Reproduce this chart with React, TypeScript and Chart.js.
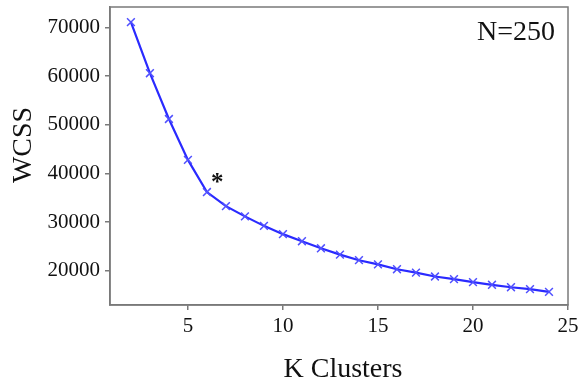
import React, { useEffect, useRef } from "react";
import { Chart, registerables } from "chart.js";

Chart.register(...registerables);

const kValues = [2, 3, 4, 5, 6, 7, 8, 9, 10, 11, 12, 13, 14, 15, 16, 17, 18, 19, 20, 21, 22, 23, 24];
const wcssValues = [
  71100, 60600, 51200, 42800, 36200, 33300, 31200, 29250, 27550, 26100, 24650, 23350,
  22200, 21350, 20350, 19650, 18850, 18300, 17700, 17150, 16650, 16250, 15700,
];
const xTicks = [5, 10, 15, 20, 25];
const yTicks = [20000, 30000, 40000, 50000, 60000, 70000];
const xTitle = "K Clusters";
const yTitle = "WCSS";
const sampleLabel = "N=250";
const elbowMark = { x: 6.55, y: 38500, text: "*" };

const FONT = "'Liberation Serif', 'Times New Roman', serif";
const AXIS_GRAY = "#7a7a7a";

const framePlugin = {
  id: "frameAndNotes",
  afterDraw(chart: any) {
    const { ctx, chartArea, scales } = chart;
    ctx.save();
    ctx.strokeStyle = AXIS_GRAY;
    ctx.lineWidth = 1.5;
    ctx.strokeRect(chartArea.left, chartArea.top, chartArea.right - chartArea.left, chartArea.bottom - chartArea.top);

    ctx.fillStyle = "#111";
    ctx.font = `28px ${FONT}`;
    ctx.textAlign = "right";
    ctx.textBaseline = "alphabetic";
    ctx.fillText(sampleLabel, chartArea.right - 13, chartArea.top + 33);

    // axis titles
    ctx.textAlign = "center";
    ctx.font = `28px ${FONT}`;
    ctx.fillText(xTitle, (chartArea.left + chartArea.right) / 2 + 4, 377);
    ctx.save();
    ctx.translate(31, 145);
    ctx.rotate(-Math.PI / 2);
    ctx.fillText(yTitle, 0, 0);
    ctx.restore();

    ctx.font = `bold 25px ${FONT}`;
    ctx.textAlign = "center";
    const px = scales.x.getPixelForValue(elbowMark.x);
    const py = scales.y.getPixelForValue(elbowMark.y);
    ctx.fillText(elbowMark.text, px, py + 9);
    ctx.restore();
  },
};

export default function App() {
  const ref = useRef<HTMLCanvasElement | null>(null);
  useEffect(() => {
    if (!ref.current) return;
    const chart = new Chart(ref.current, {
      type: "line",
      data: {
        datasets: [
          {
            data: kValues.map((k, i) => ({ x: k, y: wcssValues[i] })),
            borderColor: "#2a2aff",
            borderWidth: 2.2,
            pointStyle: "crossRot",
            pointRadius: 5.5,
            pointBorderColor: "#5050ff",
            pointBorderWidth: 1.5,
            pointBackgroundColor: "#5050ff",
            tension: 0,
            fill: false,
          },
        ],
      },
      options: {
        responsive: false,
        animation: false,
        devicePixelRatio: 1,
        layout: { padding: { left: 0, top: 7, right: 10, bottom: 0 } },
        plugins: { legend: { display: false }, tooltip: { enabled: false } },
        scales: {
          x: {
            type: "linear",
            min: 0.9,
            max: 25,
            afterBuildTicks: (s: any) => {
              s.ticks = xTicks.map((v) => ({ value: v }));
            },
            afterFit: (s: any) => {
              s.height = 78;
              s.paddingLeft = 0;
              s.paddingRight = 0;
            },
            grid: { drawOnChartArea: false, drawTicks: true, tickLength: 5, color: AXIS_GRAY, lineWidth: 1.5 },
            border: { color: AXIS_GRAY, width: 1.5 },
            ticks: { color: "#111", padding: 4, maxRotation: 0, font: { family: FONT, size: 21 } },
          },
          y: {
            type: "linear",
            min: 13000,
            max: 74200,
            afterBuildTicks: (s: any) => {
              s.ticks = yTicks.map((v) => ({ value: v }));
            },
            afterFit: (s: any) => {
              s.width = 110;
              s.paddingTop = 0;
              s.paddingBottom = 0;
            },
            grid: { drawOnChartArea: false, drawTicks: true, tickLength: 5, color: AXIS_GRAY, lineWidth: 1.5 },
            border: { color: AXIS_GRAY, width: 1.5 },
            ticks: {
              color: "#111",
              padding: 5,
              font: { family: FONT, size: 21 },
              callback: (v: any) => String(v),
            },
          },
        },
      },
      plugins: [framePlugin],
    });
    return () => chart.destroy();
  }, []);
  return (
    <div style={{ position: "fixed", left: 0, top: 0, width: 578, height: 383, background: "#fff" }}>
      <canvas ref={ref} width={578} height={383} style={{ display: "block" }} />
    </div>
  );
}
